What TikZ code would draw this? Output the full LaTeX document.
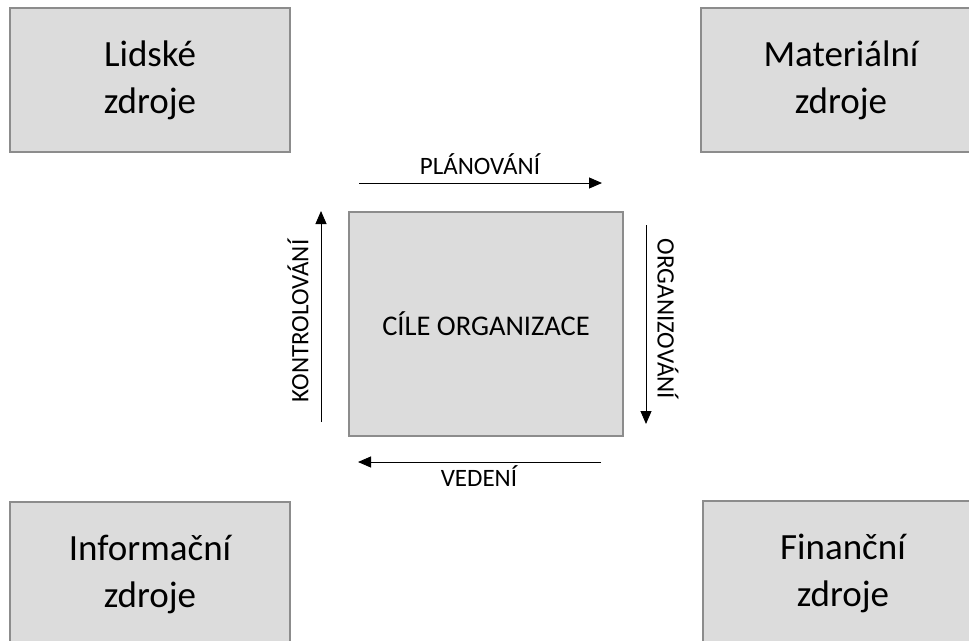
\documentclass[tikz,border=0pt]{standalone}
\usepackage{fontspec}
\setmainfont{Carlito}
\usetikzlibrary{arrows.meta}
\definecolor{boxfill}{RGB}{220,220,220}
\definecolor{boxline}{RGB}{140,140,140}
\tikzset{
  resbox/.style={draw=boxline, fill=boxfill, line width=2pt, minimum width=280pt, minimum height=144pt, align=center, inner sep=0pt, font=\fontsize{37}{47}\selectfont},
  goalbox/.style={draw=boxline, fill=boxfill, line width=2pt, minimum width=274pt, minimum height=224pt, inner sep=0pt, font=\fontsize{28.5}{34}\selectfont},
  flow/.style={line width=1pt, -{Triangle[length=13pt,width=11pt]}},
  lbl/.style={inner sep=0pt, font=\fontsize{25}{29}\selectfont}
}
\begin{document}
\begin{tikzpicture}[x=1pt,y=-1pt]
\clip (0,0) rectangle (969,640);
\fill[white] (0,0) rectangle (969,640);
\node[resbox] (lid) at (150,80) {\raisebox{-3pt}{\parbox{260pt}{\centering Lidské\\zdroje}}};
\node[resbox] (mat) at (841,80) {\raisebox{-3pt}{\parbox{260pt}{\centering Materiální\\zdroje}}};
\node[resbox] (inf) at (150,574) {\raisebox{-2pt}{\parbox{260pt}{\centering Informační\\zdroje}}};
\node[resbox] (fin) at (843,573) {\raisebox{-2pt}{\parbox{260pt}{\centering Finanční\\zdroje}}};
\node[goalbox] (cil) at (486,324) {CÍLE ORGANIZACE};
\coordinate (p1) at (359,183); \coordinate (p2) at (602,183);
\coordinate (o1) at (646,225); \coordinate (o2) at (646,424);
\coordinate (v1) at (601,462); \coordinate (v2) at (358,462);
\coordinate (k1) at (321,422); \coordinate (k2) at (321,211);
\draw[flow] (p1) -- (p2);
\draw[flow] (o1) -- (o2);
\draw[flow] (v1) -- (v2);
\draw[flow] (k1) -- (k2);
\node[lbl] (plan) at (480,164) {PLÁNOVÁNÍ};
\node[lbl] (ved) at (479,476) {VEDENÍ};
\node[lbl, rotate=90] (kon) at (298,321) {KONTROLOVÁNÍ};
\node[lbl, rotate=-90] (org) at (668,319) {ORGANIZOVÁNÍ};
\end{tikzpicture}
\end{document}
